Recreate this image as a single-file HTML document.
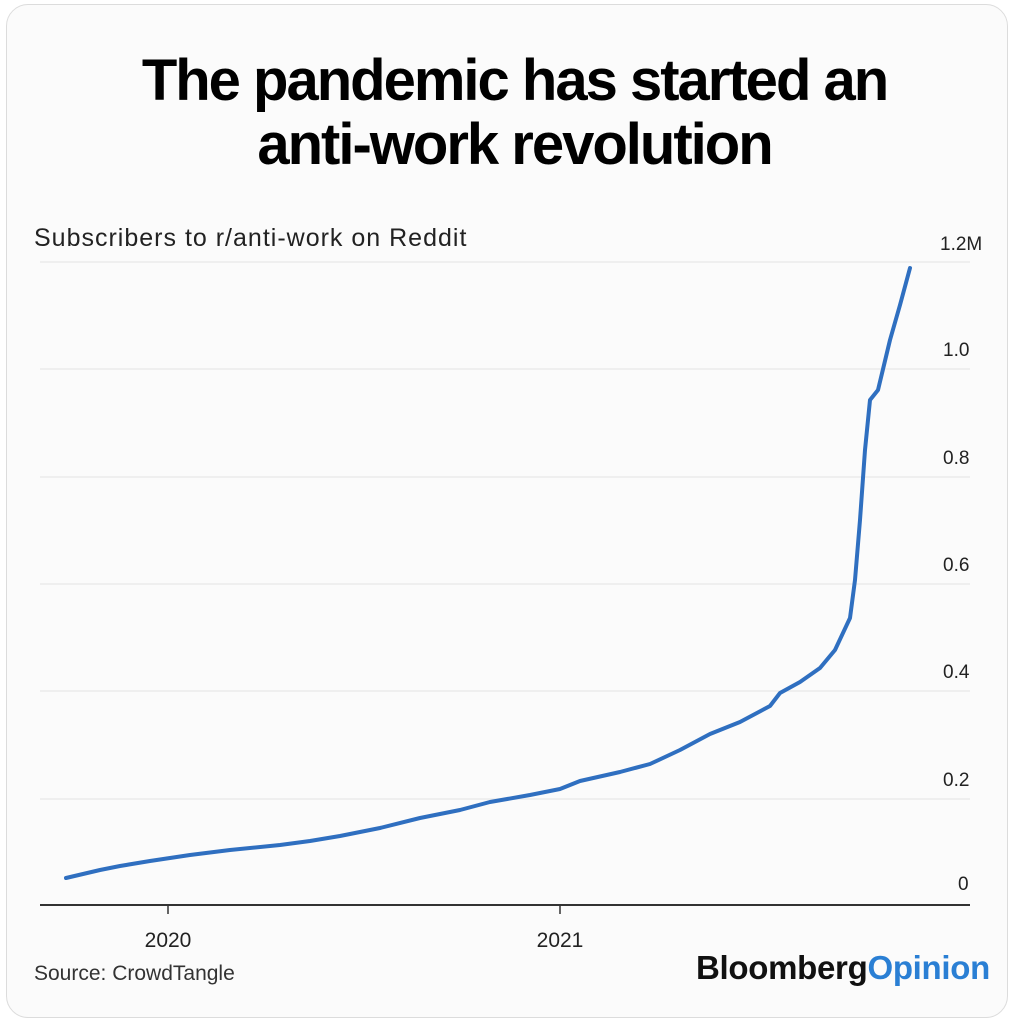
<!DOCTYPE html>
<html><head><style>
html,body{margin:0;padding:0;background:#fff;}
body{width:1013px;height:1024px;position:relative;overflow:hidden;font-family:"Liberation Sans",sans-serif;}
.card{position:absolute;left:6px;top:4px;width:1000px;height:1012px;border:1px solid #dcdcdc;border-radius:22px;background:#fbfbfb;}
.t{position:absolute;left:8px;width:1013px;text-align:center;font-weight:bold;font-size:58px;letter-spacing:-2px;color:#000;line-height:62px;}
</style></head><body>
<div class="card"></div>
<div class="t" style="top:50px">The pandemic has started an</div>
<div class="t" style="top:114px">anti-work revolution</div>
<svg width="1013" height="1024" style="position:absolute;left:0;top:0" font-family="Liberation Sans, sans-serif">
<text x="34" y="246" font-size="25" fill="#222" letter-spacing="1">Subscribers to r/anti-work on Reddit</text>
<g stroke="#ebebeb" stroke-width="1.5">
<line x1="40" x2="970" y1="262" y2="262"/><line x1="40" x2="970" y1="369" y2="369"/>
<line x1="40" x2="970" y1="477" y2="477"/><line x1="40" x2="970" y1="584" y2="584"/>
<line x1="40" x2="970" y1="691" y2="691"/><line x1="40" x2="970" y1="799" y2="799"/>
</g>
<g font-size="19" fill="#222">
<text x="940" y="250">1.2M</text><text x="943" y="356">1.0</text><text x="943" y="464">0.8</text>
<text x="943" y="571">0.6</text><text x="943" y="678">0.4</text><text x="943" y="786">0.2</text><text x="958" y="890">0</text>
</g>
<line x1="40" x2="970" y1="905" y2="905" stroke="#333" stroke-width="2"/>
<line x1="168" x2="168" y1="905" y2="914" stroke="#333" stroke-width="1.5"/>
<line x1="560" x2="560" y1="905" y2="914" stroke="#333" stroke-width="1.5"/>
<g font-size="21" fill="#222" text-anchor="middle"><text x="168" y="947">2020</text><text x="560" y="947">2021</text></g>
<text x="34" y="980" font-size="21" fill="#333" letter-spacing="0">Source: CrowdTangle</text>
<text x="990" y="979" font-size="33" font-weight="bold" text-anchor="end" letter-spacing="-0.3"><tspan fill="#111">Bloomberg</tspan><tspan fill="#2a7fd4">Opinion</tspan></text>
<polyline fill="none" stroke="#2f6fc0" stroke-width="4" stroke-linejoin="round" stroke-linecap="round" points="66,878 100,870 120,866 150,861 190,855 230,850 280,845 310,841 340,836 380,828 420,818 460,810 490,802 530,795 560,789 580,781 620,772 650,764 680,750 710,734 740,722 770,706 780,693 800,682 820,668 835,650 850,618 855,580 860,520 865,450 870,400 878,390 890,340 900,305 910,268"/>
</svg>
</body></html>
